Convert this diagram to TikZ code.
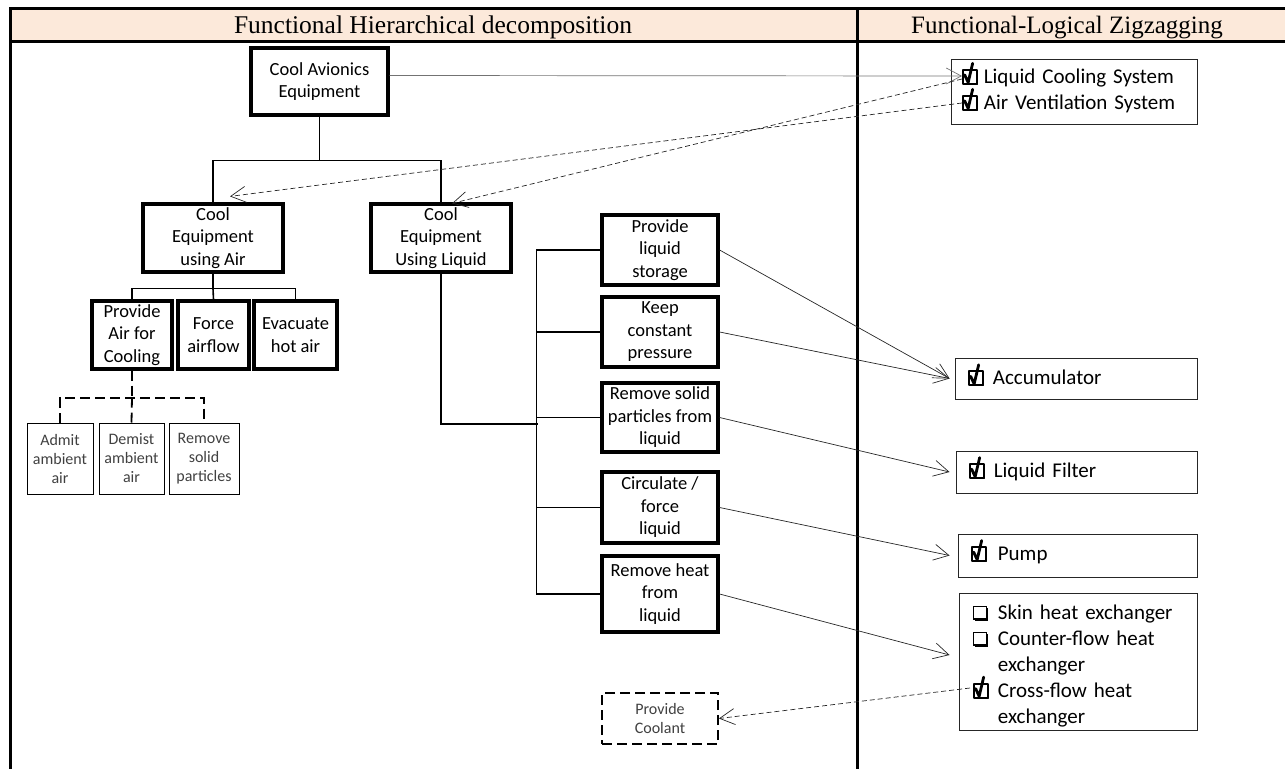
\documentclass[tikz,border=0pt]{standalone}
\usepackage{fontspec}
\setmainfont{Carlito}
\newfontfamily\hdrfont{Liberation Serif}
\usetikzlibrary{arrows.meta,calc}
\definecolor{hdrfill}{HTML}{FCE9DA}
\newcommand\ckd{\smash{\tikz[baseline=0pt,x=1pt,y=1pt,line cap=round,line join=round]{%
  \draw[line width=1.9pt,solid,black] (0.8,-0.5) rectangle (14.5,13.5);
  \draw[line width=1.4pt,solid,black] (1.5,-1) -- (15,-1);
  \draw[line width=2.8pt,solid,black] (2.5,8.5) -- (6,0.8) -- (10.5,20);}}}
\newcommand\unck{\smash{\tikz[baseline=0pt,x=1pt,y=1pt]{%
  \draw[line width=1.3pt,solid,black] (0,0) rectangle (12.5,12.5);
  \draw[line width=2.4pt,solid,black] (1.5,-0.6) -- (13.4,-0.6) -- (13.4,11);}}}
\begin{document}
\begin{tikzpicture}[x=1pt,y=-1pt,
  fbox/.style={draw, line width=3.2pt, inner sep=0pt, align=center, font=\fontsize{18.5}{22.5}\selectfont, text=black},
  sbox/.style={draw, line width=1pt, inner sep=0pt, align=center, font=\fontsize{16}{19}\selectfont, text=black!75},
  rbox/.style={draw=black!85, line width=0.9pt, inner ysep=0pt, align=left, font=\fontsize{21}{26}\selectfont},
  hdr/.style={font=\hdrfont\fontsize{25.5}{30}\selectfont, anchor=base},
  tree/.style={line width=1.6pt},
  dtree/.style={line width=1.8pt, dash pattern=on 10pt off 5pt},
  arr/.style={-{Straight Barb[length=15pt,width=16pt]}, line width=0.7pt, draw=black!85},
  darr/.style={arr, dash pattern=on 5pt off 3pt}
]
\useasboundingbox (0,0) rectangle (1285,769);
% table
\fill[hdrfill] (10,8) rectangle (1285,41);
\draw[line width=3pt] (1285,8) -- (10,8) -- (10,769);
\draw[line width=3pt] (10,41) -- (1285,41);
\draw[line width=3pt] (857,8) -- (857,769);
\node[hdr] (hdrL) at (433,33.5) {Functional Hierarchical decomposition};
\node[hdr, font=\hdrfont\fontsize{25}{30}\selectfont] (hdrR) at (1067,33.5) {Functional-Logical Zigzagging};

% functional boxes
\node[fbox, minimum width=137pt, minimum height=67pt] (cae) at (319.5,81.5) {Cool Avionics\\Equipment};
\node[fbox, minimum width=140pt, minimum height=68pt] (cea) at (213,238) {Cool\\Equipment\\using Air};
\node[fbox, minimum width=140pt, minimum height=68pt] (cel) at (441,238) {Cool\\Equipment\\Using Liquid};
\node[fbox, minimum width=80pt, minimum height=68pt] (pac) at (132,335) {Provide\\Air for\\Cooling};
\node[fbox, minimum width=71pt, minimum height=68pt] (fa) at (213.5,335) {Force\\airflow};
\node[fbox, minimum width=83pt, minimum height=68pt] (evac) at (295.5,335) {Evacuate\\hot air};
\node[sbox, minimum width=66pt, minimum height=71pt] (aaa) at (60,458.5) {Admit\\ambient\\air};
\node[sbox, minimum width=65pt, minimum height=71pt] (daa) at (131.5,458.5) {Demist\\ambient\\air};
\node[sbox, minimum width=70pt, minimum height=71pt] (rsp) at (204,458.5) {Remove\\solid\\particles};
\node[fbox, minimum width=116pt, minimum height=70pt] (pls) at (660,250) {Provide\\liquid\\storage};
\node[fbox, minimum width=116pt, minimum height=70pt] (kcp) at (660,332) {Keep\\constant\\pressure};
\node[fbox, minimum width=116pt, minimum height=69pt] (rspl) at (660,417.5) {Remove solid\\particles from\\liquid};
\node[fbox, minimum width=116pt, minimum height=71pt] (cfl) at (660,507.5) {Circulate /\\force\\liquid};
\node[fbox, minimum width=116pt, minimum height=76pt] (rhl) at (660,594) {Remove heat\\from\\liquid};
\node[sbox, line width=1.8pt, dash pattern=on 10pt off 5pt, minimum width=116pt, minimum height=51pt] (pcool) at (660,718.5) {Provide\\Coolant};

% logical boxes
\node[rbox, minimum width=246pt, minimum height=65pt, text width=224pt, inner xsep=11pt] (lcs) at (1074,91.5) {\ckd\hspace{6pt}Liquid Cooling System\\\ckd\hspace{6pt}Air Ventilation System\rule[-5pt]{0pt}{5pt}};
\node[rbox, minimum width=242pt, minimum height=41pt, text width=216pt, inner xsep=13pt] (acc) at (1076,378.5) {\ckd\hspace{9pt}Accumulator\rule[-2pt]{0pt}{2pt}};
\node[rbox, minimum width=241pt, minimum height=42pt, text width=215pt, inner xsep=13pt] (lf) at (1076.5,472) {\ckd\hspace{9pt}Liquid Filter};
\node[rbox, minimum width=239pt, minimum height=43pt, text width=213pt, inner xsep=13pt] (pump) at (1077.5,555.5) {\ckd\hspace{11pt}Pump};
\node[rbox, minimum width=238pt, minimum height=136pt, text width=210pt, inner xsep=14pt] (hx) at (1078,662) {\begin{tabular}{@{}l@{\hspace{9pt}}l@{}}\unck & Skin heat exchanger\rule{0pt}{26pt}\\ \unck & Counter-flow heat\\ & exchanger\\ \ckd & Cross-flow heat\\ & exchanger\end{tabular}};

% free ends
\coordinate (lcsA) at (962,76);
\coordinate (lcsB) at (962,79);
\coordinate (avsB) at (962,103);
\coordinate (cfB) at (970,688);
\coordinate (bus) at (538,424);

% tree connectors
\draw[tree] (cae.south) -- ++(0,44) coordinate (j1);
\draw[tree] (cea.north) |- (j1) -| (cel.north);
\draw[tree] (cea.south) -- ++(0,15) coordinate (j2);
\draw[tree] (pac.north) |- (j2) -| (evac.north);
\draw[tree] (j2) -- (fa.north);
\draw[dtree] (pac.south) -- ++(0,27) coordinate (j3);
\draw[dtree] (aaa.north) |- (j3) -| (rsp.north);
\draw[dtree] (j3) -- (daa.north);
\draw[tree] (cel.south) |- (bus);
\draw[line width=2.8pt] ([xshift=34pt]cel.south |- bus) -- (bus);
\draw[tree] (pls.west) -- ++(-64,0) |- (rhl.west);
\draw[tree] (kcp.west) -- ++(-64,0);
\draw[tree] (rspl.west) -- ++(-64,0);
\draw[tree] (cfl.west) -- ++(-64,0);

% zigzag arrows
\draw[arr, draw=black!55] ([yshift=6pt]cae.east) -- (lcsA);
\draw[darr] (lcsB) -- ([xshift=11pt,yshift=-1pt]cel.north);
\draw[darr] (avsB) -- ([xshift=17pt,yshift=6pt]cea.north);
\draw[arr] (pls.east) -- ([xshift=-5pt]acc.west);
\draw[arr] (kcp.east) -- ([xshift=-5pt]acc.west);
\draw[arr] (rspl.east) -- ([xshift=-6pt]lf.west);
\draw[arr] (cfl.east) -- ([xshift=-8pt]pump.west);
\draw[arr] (rhl.east) -- ([xshift=-9pt,yshift=7pt]hx.west);
\draw[darr] (cfB) -- (pcool.east);
\end{tikzpicture}
\end{document}
